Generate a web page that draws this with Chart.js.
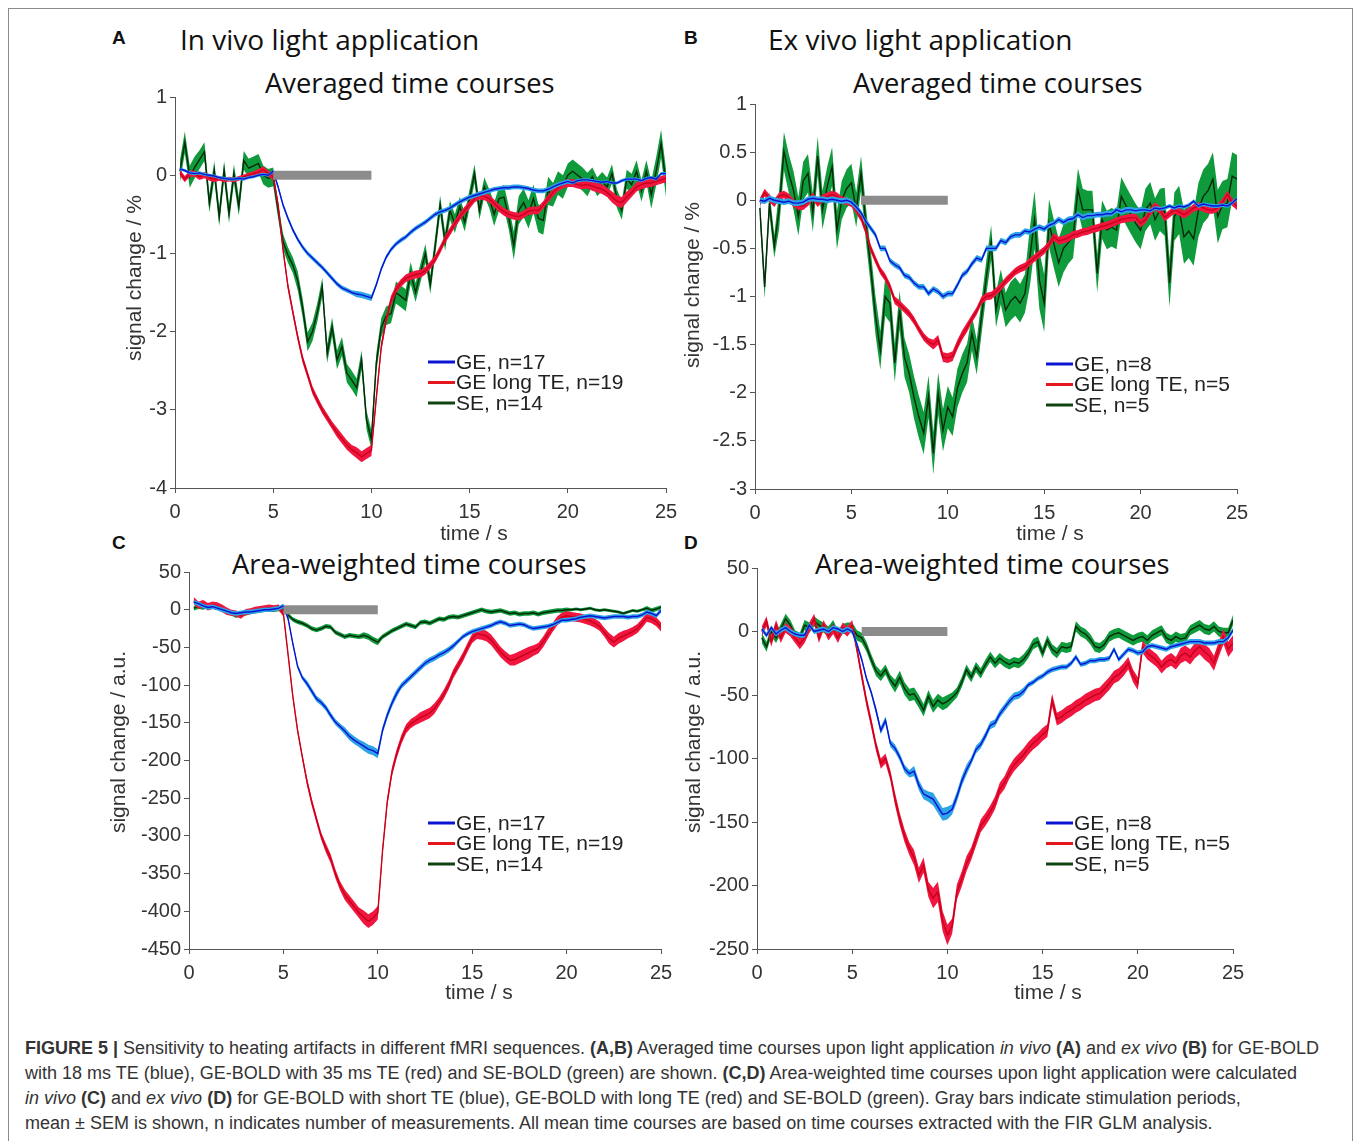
<!DOCTYPE html>
<html>
<head>
<meta charset="utf-8">
<script src="https://cdn.jsdelivr.net/npm/chart.js@4.4.1/dist/chart.umd.min.js"></script>
<style>
  body { margin: 0; background: #fff; width: 1357px; height: 1141px; position: relative; overflow: hidden; font-family: "Liberation Sans", Arial, sans-serif; }
  .frame { position: absolute; left: 8px; top: 8px; width: 1343px; height: 1150px; border: 1px solid #8a8a8a; }
  canvas { position: absolute; }
  .lbl { position: absolute; font: bold 19px "Liberation Sans", Arial, sans-serif; color: #111; line-height: 1; }
  .ttl { position: absolute; font: 28px "Open Sans", sans-serif; color: #111; line-height: 1; white-space: nowrap; }
  .sub { font-size: 27.3px; }
  .cap { position: absolute; left: 25px; top: 1036px; font: 18px "Liberation Sans", Arial, sans-serif; color: #333; line-height: 25px; white-space: nowrap; }
</style>
</head>
<body>
<div class="frame"></div>

<div class="lbl" style="left:112px;top:28px">A</div>
<div class="ttl" style="left:180px;top:25px">In vivo light application</div>
<div class="ttl sub" style="left:265px;top:69px">Averaged time courses</div>
<div class="lbl" style="left:684px;top:28px">B</div>
<div class="ttl" style="left:768px;top:25px">Ex vivo light application</div>
<div class="ttl sub" style="left:853px;top:69px">Averaged time courses</div>
<div class="lbl" style="left:112px;top:533px">C</div>
<div class="ttl sub" style="left:232px;top:550px">Area-weighted time courses</div>
<div class="lbl" style="left:684px;top:533px">D</div>
<div class="ttl sub" style="left:815px;top:550px">Area-weighted time courses</div>

<canvas id="chartA" width="641" height="466" style="left:65px;top:82px"></canvas>
<canvas id="chartB" width="632" height="460" style="left:645px;top:89px"></canvas>
<canvas id="chartC" width="622" height="452" style="left:79px;top:557px"></canvas>
<canvas id="chartD" width="626" height="456" style="left:647px;top:553px"></canvas>

<div class="cap">
  <b>FIGURE 5 |</b> Sensitivity to heating artifacts in different fMRI sequences. <b>(A,B)</b> Averaged time courses upon light application <i>in vivo</i> <b>(A)</b> and <i>ex vivo</i> <b>(B)</b> for GE-BOLD<br>
  with 18 ms TE (blue), GE-BOLD with 35 ms TE (red) and SE-BOLD (green) are shown. <b>(C,D)</b> Area-weighted time courses upon light application were calculated<br>
  <i>in vivo</i> <b>(C)</b> and <i>ex vivo</i> <b>(D)</b> for GE-BOLD with short TE (blue), GE-BOLD with long TE (red) and SE-BOLD (green). Gray bars indicate stimulation periods,<br>
  mean ± SEM is shown, n indicates number of measurements. All mean time courses are based on time courses extracted with the FIR GLM analysis.
</div>

<script>
// time axis (s), one sample every 0.25 s
const time = [
  0.25, 0.5, 0.75, 1, 1.25, 1.5, 1.75, 2, 2.25, 2.5, 2.75, 3, 3.25, 3.5, 3.75, 4, 4.25, 4.5, 4.75, 5,
  5.25, 5.5, 5.75, 6, 6.25, 6.5, 6.75, 7, 7.25, 7.5, 7.75, 8, 8.25, 8.5, 8.75, 9, 9.25, 9.5, 9.75, 10,
  10.25, 10.5, 10.75, 11, 11.25, 11.5, 11.75, 12, 12.25, 12.5, 12.75, 13, 13.25, 13.5, 13.75, 14, 14.25, 14.5, 14.75, 15,
  15.25, 15.5, 15.75, 16, 16.25, 16.5, 16.75, 17, 17.25, 17.5, 17.75, 18, 18.25, 18.5, 18.75, 19, 19.25, 19.5, 19.75, 20,
  20.25, 20.5, 20.75, 21, 21.25, 21.5, 21.75, 22, 22.25, 22.5, 22.75, 23, 23.25, 23.5, 23.75, 24, 24.25, 24.5, 24.75, 25,
];

// --- A: in vivo, averaged (%) ---
const geA = [
  0.08, 0.06, 0.03, 0.02, 0.03, 0.01, 0, -0.01, -0.03, -0.04, -0.05, -0.05, -0.04, -0.05, -0.03, -0.02, 0, 0.01, 0, 0.05,
  -0.15, -0.38, -0.55, -0.7, -0.82, -0.92, -1.0, -1.06, -1.12, -1.18, -1.25, -1.32, -1.39, -1.44, -1.47, -1.5, -1.52, -1.53, -1.55, -1.57,
  -1.4, -1.2, -1.05, -0.95, -0.88, -0.83, -0.79, -0.73, -0.68, -0.64, -0.6, -0.55, -0.5, -0.47, -0.45, -0.42, -0.38, -0.34, -0.31, -0.28,
  -0.26, -0.24, -0.22, -0.2, -0.18, -0.17, -0.16, -0.16, -0.15, -0.15, -0.16, -0.17, -0.19, -0.2, -0.2, -0.18, -0.15, -0.12, -0.1, -0.08,
  -0.1, -0.07, -0.06, -0.06, -0.07, -0.08, -0.09, -0.08, -0.1, -0.1, -0.07, -0.05, -0.05, -0.05, -0.07, -0.04, -0.03, -0.05, 0.02, 0.02,
];
const longA = [
  0.03, -0.05, 0.02, 0.02, -0.02, 0, -0.03, -0.05, -0.04, -0.06, -0.05, -0.06, -0.04, -0.02, 0, 0.02, 0.04, 0.07, 0.02, -0.02,
  -0.38, -0.95, -1.42, -1.75, -2.07, -2.35, -2.55, -2.75, -2.88, -3.0, -3.1, -3.2, -3.29, -3.37, -3.45, -3.51, -3.55, -3.6, -3.56, -3.52,
  -2.85, -2.2, -1.85, -1.6, -1.46, -1.38, -1.32, -1.29, -1.27, -1.26, -1.22, -1.15, -1.07, -0.95, -0.82, -0.72, -0.62, -0.53, -0.45, -0.38,
  -0.3, -0.26, -0.27, -0.3, -0.36, -0.42, -0.47, -0.5, -0.52, -0.53, -0.5, -0.46, -0.45, -0.45, -0.38, -0.3, -0.22, -0.16, -0.12, -0.1,
  -0.1, -0.12, -0.13, -0.12, -0.14, -0.16, -0.18, -0.22, -0.28, -0.33, -0.35, -0.28, -0.22, -0.15, -0.12, -0.1, -0.1, -0.08, -0.06, -0.04,
];
const seA = [
  0.05, 0.42, -0.02, 0.1, 0.2, 0.3, -0.36, 0.06, -0.53, 0.06, -0.49, 0.02, -0.4, 0.19, 0.09, 0.12, 0.15, 0, -0.04, -0.02,
  -0.45, -0.85, -1.02, -1.15, -1.35, -1.7, -2.13, -2.0, -1.75, -1.43, -2.28, -1.94, -2.36, -2.19, -2.53, -2.62, -2.72, -2.36, -3.13, -3.38,
  -2.4, -1.95, -1.8, -1.77, -1.5, -1.55, -1.6, -1.25, -1.5, -1.25, -1.0, -1.4, -0.9, -0.38, -0.85, -0.45, -0.62, -0.4, -0.6, -0.3,
  0.02, -0.45, -0.15, -0.3, -0.5, -0.3, -0.28, -0.55, -0.9, -0.45, -0.35, -0.5, -0.3, -0.55, -0.58, -0.2, -0.25, -0.1, -0.15, 0,
  0.05, 0, -0.05, -0.12, -0.02, -0.15, -0.08, -0.15, 0.02, -0.3, -0.45, -0.05, -0.12, 0.05, -0.2, 0.05, -0.25, 0.05, 0.4, -0.1,
];
// SEM, one value per second
const geSemA = [0.02, 0.02, 0.02, 0.02, 0.02, 0.03, 0.03, 0.03, 0.03, 0.04, 0.03, 0.03, 0.03, 0.03, 0.03, 0.03, 0.03, 0.03, 0.03, 0.03, 0.02, 0.02, 0.02, 0.02, 0.02];
const longSemA = [0.04, 0.04, 0.03, 0.03, 0.04, 0.05, 0.05, 0.05, 0.06, 0.07, 0.06, 0.05, 0.05, 0.05, 0.05, 0.05, 0.05, 0.05, 0.05, 0.05, 0.05, 0.06, 0.07, 0.06, 0.05];
const seSemA = [0.14, 0.12, 0.12, 0.12, 0.12, 0.1, 0.12, 0.12, 0.12, 0.12, 0.12, 0.14, 0.12, 0.12, 0.12, 0.12, 0.15, 0.18, 0.18, 0.15, 0.15, 0.12, 0.12, 0.14, 0.18];
const legendA = ["GE, n=17", "GE long TE, n=19", "SE, n=14"];

// --- B: ex vivo, averaged (%) ---
const geB = [
  0, -0.01, 0.02, 0, -0.01, -0.02, -0.01, -0.03, -0.03, -0.02, 0.01, 0.02, 0.01, 0.01, 0, 0.01, 0, -0.01, 0, -0.02,
  -0.07, -0.13, -0.22, -0.29, -0.36, -0.5, -0.5, -0.63, -0.67, -0.7, -0.78, -0.8, -0.86, -0.9, -0.9, -0.97, -0.92, -0.95, -1.0, -0.97,
  -0.97, -0.88, -0.78, -0.74, -0.66, -0.6, -0.62, -0.5, -0.5, -0.5, -0.42, -0.44, -0.38, -0.36, -0.36, -0.32, -0.33, -0.3, -0.28, -0.3,
  -0.26, -0.24, -0.2, -0.23, -0.2, -0.19, -0.15, -0.18, -0.16, -0.16, -0.15, -0.15, -0.14, -0.14, -0.1, -0.12, -0.1, -0.1, -0.11, -0.1,
  -0.1, -0.11, -0.08, -0.09, -0.08, -0.06, -0.08, -0.06, -0.07, -0.05, -0.01, -0.06, -0.04, -0.05, -0.06, -0.06, -0.05, -0.06, -0.03, 0.02,
];
const longB = [
  -0.02, 0.08, 0.02, -0.03, 0.04, 0.06, 0.03, -0.03, -0.06, -0.06, -0.02, 0.04, -0.03, 0.02, 0.04, 0.06, 0.04, 0, -0.01, -0.03,
  -0.1, -0.18, -0.32, -0.5, -0.62, -0.73, -0.8, -0.9, -1.04, -1.08, -1.13, -1.18, -1.25, -1.34, -1.42, -1.47, -1.5, -1.45, -1.63, -1.64,
  -1.62, -1.5, -1.4, -1.32, -1.23, -1.15, -1.04, -1.0, -0.99, -0.95, -0.9, -0.84, -0.79, -0.74, -0.71, -0.69, -0.64, -0.6, -0.56, -0.52,
  -0.46, -0.38, -0.42, -0.41, -0.39, -0.36, -0.35, -0.33, -0.32, -0.3, -0.29, -0.27, -0.26, -0.24, -0.22, -0.2, -0.19, -0.18, -0.18, -0.24,
  -0.2, -0.12, -0.06, -0.1, -0.18, -0.14, -0.1, -0.12, -0.15, -0.12, -0.08, -0.06, -0.08, -0.1, -0.1, -0.08, -0.02, 0.06, -0.02, -0.06,
];
const seB = [
  -0.08, -0.9, -0.03, -0.48, -0.1, 0.51, 0.28, 0.1, -0.17, 0.2, 0.28, -0.13, 0.46, -0.1, 0.15, 0.35, -0.31, 0, 0.12, 0.18,
  -0.1, 0.28, -0.24, -0.7, -1.2, -1.56, -1.0, -1.07, -1.69, -1.14, -1.63, -1.8, -2.05, -2.25, -2.42, -2.04, -2.63, -2.01, -2.39, -2.15,
  -2.25, -1.95, -1.8, -1.69, -1.38, -1.63, -1.21, -0.8, -0.44, -1.14, -0.9, -1.14, -1.05, -1.0, -1.07, -0.97, -0.6, -0.2, -0.83, -1.07,
  -0.24, -0.45, -0.65, -0.5, -0.44, -0.38, 0.11, -0.1, -0.1, -0.1, -0.76, -0.2, -0.31, -0.28, -0.31, 0.04, -0.06, -0.15, -0.24, -0.31,
  -0.1, -0.03, -0.2, -0.1, -0.12, -0.86, -0.17, -0.1, -0.38, -0.32, -0.4, -0.1, 0.04, 0.1, 0.22, -0.17, -0.05, -0.03, 0.25, 0.22,
];
const geSemB = [0.03, 0.03, 0.03, 0.03, 0.03, 0.03, 0.03, 0.03, 0.03, 0.03, 0.03, 0.03, 0.03, 0.03, 0.03, 0.03, 0.03, 0.03, 0.03, 0.03, 0.02, 0.02, 0.02, 0.02, 0.02];
const longSemB = [0.04, 0.04, 0.04, 0.04, 0.04, 0.04, 0.04, 0.04, 0.04, 0.05, 0.05, 0.04, 0.04, 0.04, 0.04, 0.04, 0.04, 0.04, 0.04, 0.04, 0.04, 0.04, 0.04, 0.04, 0.04];
const seSemB = [0.12, 0.2, 0.2, 0.2, 0.2, 0.18, 0.2, 0.2, 0.22, 0.22, 0.2, 0.18, 0.18, 0.2, 0.3, 0.25, 0.22, 0.2, 0.2, 0.2, 0.22, 0.25, 0.28, 0.28, 0.25];
const legendB = ["GE, n=8", "GE long TE, n=5", "SE, n=5"];

// --- C: in vivo, area-weighted (a.u.) ---
const geC = [
  10, 8, 5, 3, 4, 2, 0, -2, -4, -5, -4, -3, -3, -2, -1, 0, 0, 1, 2, 5,
  -12, -45, -75, -90, -98, -108, -118, -123, -130, -140, -149, -155, -161, -168, -173, -177, -181, -185, -187, -191,
  -160, -140, -124, -111, -101, -95, -89, -83, -77, -71, -67, -64, -60, -57, -53, -48, -42, -36, -32, -29,
  -27, -25, -23, -21, -18, -16, -18, -21, -20, -19, -20, -23, -25, -24, -23, -22, -20, -17, -14, -14,
  -13, -12, -10, -9, -8, -9, -10, -11, -10, -9, -9, -9, -10, -9, -9, -7, -3, -5, -8, -1,
];
const longC = [
  12, 6, 8, 4, 6, 5, 2, -2, -4, -5, -8, -3, -2, 0, 1, 2, 3, 2, 3, -5,
  -60, -115, -160, -195, -228, -255, -278, -300, -316, -330, -350, -366, -378, -386, -394, -402, -408, -413, -409, -402,
  -320, -255, -215, -191, -172, -158, -151, -147, -143, -140, -137, -131, -122, -112, -100, -85, -74, -63, -50, -38,
  -32, -33, -35, -40, -48, -56, -62, -67, -66, -63, -60, -57, -54, -51, -43, -33, -24, -15, -10, -8,
  -9, -10, -11, -13, -15, -18, -22, -30, -38, -43, -38, -35, -32, -29, -25, -18, -10, -12, -16, -23,
];
const seC = [
  2, 4, 3, 5, 4, 3, 0, -3, -5, -8, -6, -5, -3, -2, -1, 0, 0, 0, 1, 0,
  -7, -13, -16, -18, -21, -25, -27, -25, -22, -23, -30, -33, -36, -34, -35, -36, -34, -36, -40, -43,
  -36, -32, -28, -25, -22, -19, -21, -23, -17, -16, -18, -15, -12, -13, -10, -9, -10, -8, -6, -4,
  -2, 0, -2, -3, -2, -1, -3, -5, -4, -6, -5, -5, -4, -6, -4, -3, -2, -1, -1, 0,
  0, 1, 0, 1, 2, 0, -1, 0, -1, -2, -3, -5, -3, -1, -2, 0, 2, -1, 1, 3,
];
const geSemC = [3, 3, 3, 3, 3, 3, 4, 4, 5, 6, 5, 4, 4, 4, 3, 3, 3, 3, 3, 3, 3, 3, 3, 3, 3];
const longSemC = [5, 5, 4, 4, 4, 4, 5, 6, 7, 9, 6, 6, 7, 6, 6, 7, 7, 8, 7, 6, 6, 6, 7, 6, 6];
const seSemC = [3, 3, 3, 3, 3, 3, 3, 3, 3, 4, 3, 3, 3, 3, 3, 3, 3, 3, 3, 3, 2, 2, 2, 2, 3];
const legendC = ["GE, n=17", "GE long TE, n=19", "SE, n=14"];

// --- D: ex vivo, area-weighted (a.u.) ---
const geD = [
  2, -3, 3, -2, 1, 3, 0, -2, -3, -3, 5, 0, 1, 2, 0, 3, 2, 0, 2, 0,
  -10, -22, -37, -48, -62, -78, -70, -88, -92, -99, -108, -112, -110, -121, -128, -130, -132, -138, -144, -143,
  -140, -130, -118, -109, -102, -93, -89, -82, -74, -72, -65, -60, -55, -51, -50, -47, -42, -40, -37, -35,
  -32, -30, -29, -28, -28, -25, -20, -26, -25, -23, -23, -22, -22, -21, -14, -22, -18, -14, -15, -17,
  -16, -12, -11, -12, -13, -14, -12, -11, -10, -9, -8, -8, -8, -9, -9, -9, -8, -8, -5, 1,
];
const longD = [
  0, 8, -8, 5, -5, 3, 0, -5, -10, -5, 3, 10, -5, 5, -3, 2, -5, 3, 0, 5,
  -14, -35, -55, -72, -90, -104, -100, -113, -132, -148, -161, -171, -178, -192, -184, -203, -210, -205, -228, -239,
  -232, -205, -195, -183, -175, -164, -153, -148, -142, -135, -124, -119, -111, -105, -101, -97, -92, -88, -85, -81,
  -78, -54, -69, -67, -64, -62, -59, -57, -54, -52, -50, -49, -45, -41, -36, -34, -30, -25, -35, -41,
  -12, -17, -20, -23, -28, -24, -22, -25, -19, -17, -20, -15, -12, -16, -19, -25, -14, -4, -14, -9,
];
const seD = [
  -5, -12, 0, -5, 2, 10, 5, -3, -5, 5, 3, 8, 5, 3, 0, 5, -3, 2, 3, 3,
  -3, -5, -12, -22, -31, -35, -30, -38, -43, -36, -45, -50, -49, -55, -62, -51, -59, -54, -57, -55,
  -52, -48, -40, -30, -36, -28, -33, -26, -20, -25, -21, -24, -26, -24, -25, -22, -17, -10, -8, -17,
  -7, -14, -17, -12, -13, -12, 4, 0, -2, -6, -12, -13, -10, -4, -2, -1, -3, -5, -7, -5,
  -4, -7, -3, -1, 1, -5, -7, -4, -6, -5, 1, 3, 5, 2, 1, 4, 0, -1, -1, 9,
];
const geSemD = [2, 2, 2, 2, 2, 2, 3, 3, 4, 5, 4, 3, 3, 3, 2, 2, 2, 2, 2, 2, 2, 2, 2, 2, 2];
const longSemD = [4, 4, 4, 4, 4, 4, 4, 5, 6, 8, 6, 5, 5, 5, 5, 5, 5, 5, 5, 5, 5, 5, 6, 6, 6];
const seSemD = [4, 4, 4, 4, 4, 4, 4, 5, 5, 5, 4, 4, 4, 4, 4, 4, 4, 4, 4, 4, 4, 4, 4, 4, 4];
const legendD = ["GE, n=8", "GE long TE, n=5", "SE, n=5"];

// stimulation periods (s)
const stimA = [5, 10];
const stimB = [5.5, 10];
const stimC = [5, 10];
const stimD = [5.5, 10];

const colors = {
  ge: { line: "#0a10d4", band: "#2ea4e6", legend: "#0a14d2" },
  long: { line: "#c8001a", band: "#f0163f", legend: "#e4161e" },
  se: { line: "#082808", band: "#0f9a3c", legend: "#0f4410" },
};
const tickFont = { family: "'Liberation Sans', Arial, sans-serif", size: 20 };

// Chart.js paints the first dataset last, so each group is listed top -> bottom:
// mean line, lower edge (filled up to the next set), upper edge
function bandSets(vals, sem, c) {
  const mean = vals.map((v, i) => ({ x: time[i], y: v }));
  const upper = vals.map((v, i) => ({ x: time[i], y: v + sem[Math.floor(i / 4)] }));
  const lower = vals.map((v, i) => ({ x: time[i], y: v - sem[Math.floor(i / 4)] }));
  return [
    { data: mean, borderWidth: 1.4, borderColor: c.line, pointRadius: 0, fill: false },
    { data: lower, borderWidth: 0, borderColor: "transparent", pointRadius: 0, fill: "+1", backgroundColor: c.band },
    { data: upper, borderWidth: 0, borderColor: "transparent", pointRadius: 0, fill: false },
  ];
}

// legend drawn inside the plot area
const insideLegend = {
  id: "insideLegend",
  afterDatasetsDraw(chart, args, opts) {
    const ctx = chart.ctx;
    const a = chart.chartArea;
    ctx.save();
    ctx.font = "21px 'Liberation Sans', Arial, sans-serif";
    ctx.textBaseline = "middle";
    opts.labels.forEach((label, i) => {
      const x = a.left + opts.dx;
      const y = a.top + opts.dy + i * 20.5;
      ctx.strokeStyle = opts.colors[i];
      ctx.lineWidth = 3;
      ctx.beginPath();
      ctx.moveTo(x, y);
      ctx.lineTo(x + 27, y);
      ctx.stroke();
      ctx.fillStyle = "#222";
      ctx.fillText(label, x + 28, y + 1);
    });
    ctx.restore();
  },
};

// axis titles placed like the original figure (not centred)
const axisTitles = {
  id: "axisTitles",
  afterDraw(chart, args, opts) {
    const ctx = chart.ctx;
    const a = chart.chartArea;
    ctx.save();
    ctx.font = "21px 'Liberation Sans', Arial, sans-serif";
    ctx.fillStyle = "#333";
    ctx.textAlign = "center";
    ctx.textBaseline = "middle";
    ctx.fillText(opts.x.text, a.left + opts.x.dx, a.bottom + opts.x.dy);
    ctx.translate(a.left + opts.y.dx, a.top + opts.y.dy);
    ctx.rotate(-Math.PI / 2);
    ctx.fillText(opts.y.text, 0, 0);
    ctx.restore();
  },
};

function makeChart(id, p) {
  const datasets = [
    {
      data: [{ x: p.stim[0], y: 0 }, { x: p.stim[1], y: 0 }],
      borderColor: "#8c8c8c",
      borderWidth: 9,
      borderCapStyle: "butt",
      pointRadius: 0,
      fill: false,
    },
    ...bandSets(p.ge, p.geSem, colors.ge),
    ...bandSets(p.long, p.longSem, colors.long),
    ...bandSets(p.se, p.seSem, colors.se),
  ];
  return new Chart(document.getElementById(id), {
    type: "line",
    data: { datasets },
    options: {
      responsive: false,
      animation: false,
      layout: { padding: { top: 15, right: 40, left: 0, bottom: 0 } },
      plugins: {
        legend: { display: false },
        tooltip: { enabled: false },
        insideLegend: {
          labels: p.legend,
          colors: [colors.ge.legend, colors.long.legend, colors.se.legend],
          dx: p.legendPos[0],
          dy: p.legendPos[1],
        },
        axisTitles: p.titles,
      },
      scales: {
        x: {
          type: "linear",
          min: 0,
          max: 25,
          ticks: { stepSize: 5, font: tickFont, color: "#333", padding: 7, maxRotation: 0 },
          grid: { drawOnChartArea: false, tickLength: 5, color: "#555" },
          border: { color: "#555" },
          afterFit: (s) => { s.height = 60; },
        },
        y: {
          min: p.yMin,
          max: p.yMax,
          ticks: { stepSize: p.yStep, font: tickFont, color: "#333", padding: 3, callback: (v) => String(v) },
          grid: { drawOnChartArea: false, tickLength: 5, color: "#555" },
          border: { color: "#555" },
          afterFit: (s) => { s.width = 110; },
        },
      },
    },
    plugins: [insideLegend, axisTitles],
  });
}

makeChart("chartA", {
  ge: geA, long: longA, se: seA, geSem: geSemA, longSem: longSemA, seSem: seSemA,
  stim: stimA, legend: legendA, legendPos: [253, 265],
  yMin: -4, yMax: 1, yStep: 1,
  titles: { x: { text: "time / s", dx: 299, dy: 46 }, y: { text: "signal change / %", dx: -40, dy: 181 } },
});
makeChart("chartB", {
  ge: geB, long: longB, se: seB, geSem: geSemB, longSem: longSemB, seSem: seSemB,
  stim: stimB, legend: legendB, legendPos: [291, 260],
  yMin: -3, yMax: 1, yStep: 0.5,
  titles: { x: { text: "time / s", dx: 295, dy: 45 }, y: { text: "signal change / %", dx: -62, dy: 181 } },
});
makeChart("chartC", {
  ge: geC, long: longC, se: seC, geSem: geSemC, longSem: longSemC, seSem: seSemC,
  stim: stimC, legend: legendC, legendPos: [239, 251],
  yMin: -450, yMax: 50, yStep: 50,
  titles: { x: { text: "time / s", dx: 290, dy: 44 }, y: { text: "signal change / a.u.", dx: -70, dy: 170 } },
});
makeChart("chartD", {
  ge: geD, long: longD, se: seD, geSem: geSemD, longSem: longSemD, seSem: seSemD,
  stim: stimD, legend: legendD, legendPos: [289, 255],
  yMin: -250, yMax: 50, yStep: 50,
  titles: { x: { text: "time / s", dx: 291, dy: 44 }, y: { text: "signal change / a.u.", dx: -63, dy: 174 } },
});
</script>
</body>
</html>
